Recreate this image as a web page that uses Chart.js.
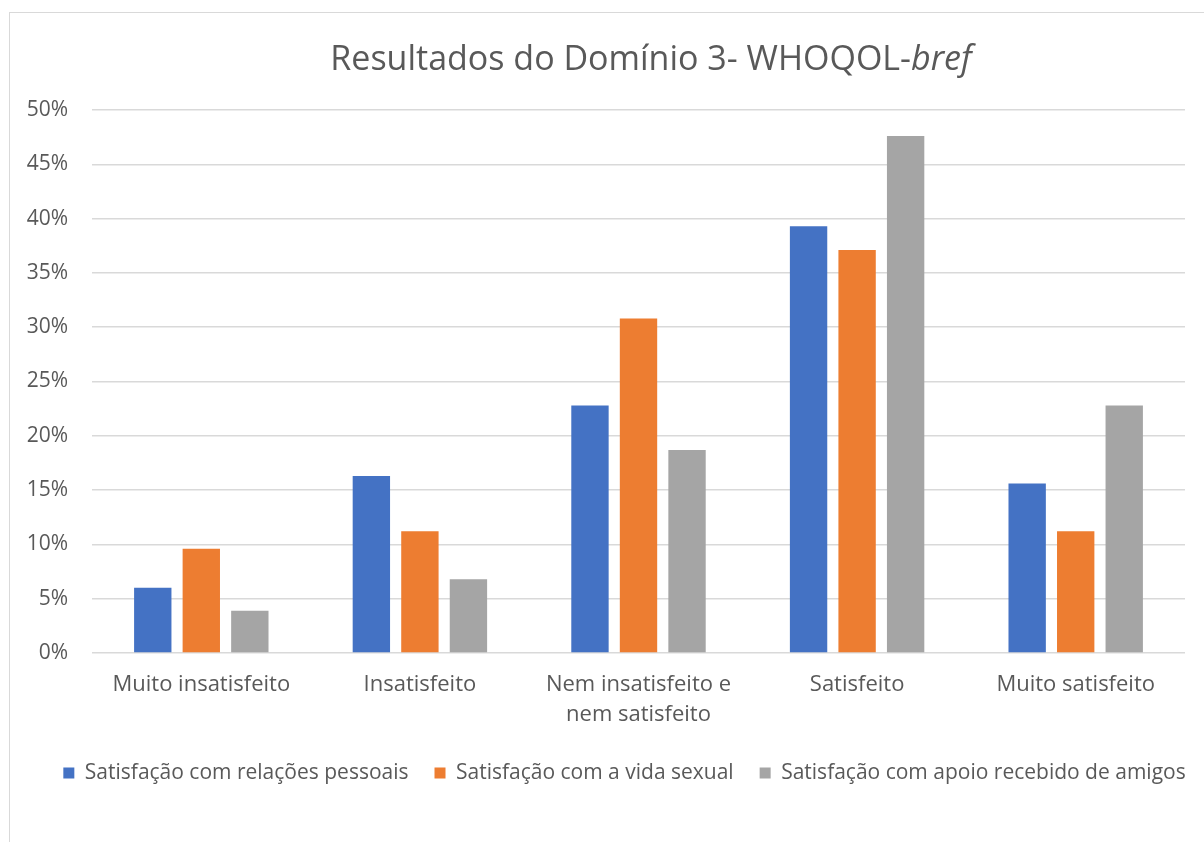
<!DOCTYPE html>
<html>
<head>
<meta charset="utf-8">
<script src="https://cdn.jsdelivr.net/npm/chart.js@4/dist/chart.umd.min.js"></script>
<style>
  html, body { margin: 0; padding: 0; background: #ffffff; }
  #wrap { position: relative; width: 1204px; height: 842px; overflow: hidden; background: #fff; }
  #frame { position: absolute; left: 9px; top: 12px; width: 1300px; height: 900px; border: 1px solid #d9d9d9; box-sizing: border-box; }
  #title { position: absolute; left: 301px; width: 700px; top: 35px; text-align: center; font-family: "Open Sans", sans-serif; font-size: 34px; color: #595959; white-space: nowrap; line-height: 44px; }
  #c { position: absolute; left: 0; top: 0; }
</style>
</head>
<body>
<div id="wrap">
  <div id="frame"></div>
  <canvas id="c" width="1204" height="842"></canvas>
  <div id="title">Resultados do Domínio 3- WHOQOL-<i>bref</i></div>
</div>
<script>
const categories = ["Muito insatisfeito", "Insatisfeito", ["Nem insatisfeito e", "nem satisfeito"], "Satisfeito", "Muito satisfeito"];
const seriesNames = ["Satisfação com relações pessoais", "Satisfação com a vida sexual", "Satisfação com apoio recebido de amigos"];
const relacoesPessoais = [6.0, 16.3, 22.8, 39.3, 15.6];
const vidaSexual = [9.6, 11.2, 30.8, 37.1, 11.2];
const apoioAmigos = [3.9, 6.8, 18.7, 47.6, 22.8];
const yTicks = [0, 5, 10, 15, 20, 25, 30, 35, 40, 45, 50];
const colors = ["#4472C4", "#ED7D31", "#A5A5A5"];

const FONT = "'Open Sans', sans-serif";
const TXT = "#595959";

const legendShift = {
  id: "legendShift",
  afterUpdate(chart) {
    if (chart.legend) { chart.legend.left += 32; chart.legend.right += 32; }
  }
};

new Chart(document.getElementById("c"), {
  type: "bar",
  data: {
    labels: categories,
    datasets: [relacoesPessoais, vidaSexual, apoioAmigos].map((d, i) => ({
      label: seriesNames[i],
      data: d,
      backgroundColor: colors[i],
      borderWidth: 0,
      categoryPercentage: 0.666,
      barPercentage: 0.77
    }))
  },
  plugins: [legendShift],
  options: {
    responsive: false,
    animation: false,
    layout: { padding: { left: 0, right: 19, top: 110, bottom: 48.5 } },
    plugins: {
      title: { display: false },
      tooltip: { enabled: false },
      legend: {
        position: "bottom",
        align: "center",
        labels: {
          boxWidth: 11, boxHeight: 11, padding: 26,
          color: TXT,
          font: { family: FONT, size: 21 }
        }
      }
    },
    scales: {
      x: {
        grid: { display: false },
        border: { display: false },
        ticks: {
          color: TXT,
          font: { family: FONT, size: 22, lineHeight: 1.36 },
          padding: 9,
          maxRotation: 0, autoSkip: false
        },
        afterFit: (s) => { s.height = 83.5; }
      },
      y: {
        min: 0, max: 50,
        afterBuildTicks: (s) => { s.ticks = yTicks.map(v => ({ value: v })); },
        afterFit: (s) => { s.width = 92; },
        grid: { color: "#d9d9d9", lineWidth: 1.5, drawTicks: false },
        border: { display: false },
        ticks: {
          color: TXT,
          font: { family: FONT, size: 21 },
          padding: 24,
          callback: (v) => v + "%"
        }
      }
    }
  }
});
</script>
</body>
</html>
